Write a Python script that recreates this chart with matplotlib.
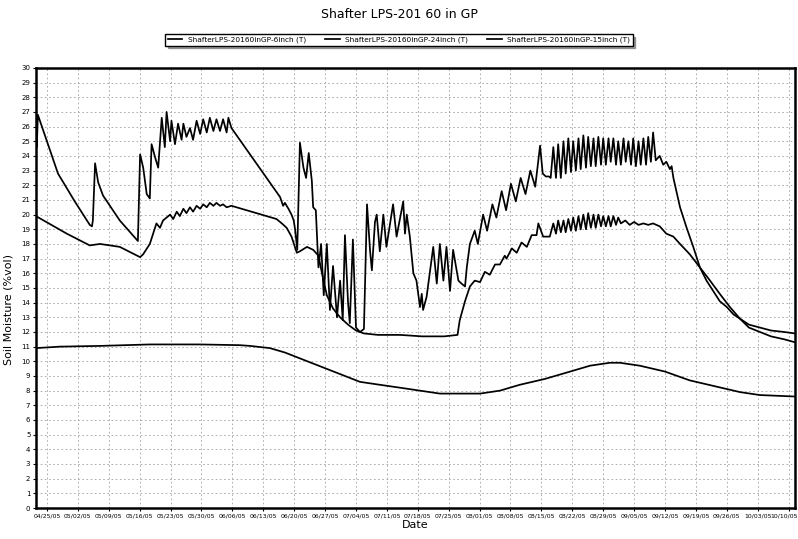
#!/usr/bin/python3
#
# Shafter LPS-201 60 in GP - soil moisture chart
#
import datetime as dt
import matplotlib
matplotlib.use('Agg')
import matplotlib.pyplot as plt
#
# data : days after 04/25/05, soil moisture (%vol)
#
start = dt.datetime(2005, 4, 25)
#
labels = ['ShafterLPS-20160inGP-6inch (T)',
          'ShafterLPS-20160inGP-24inch (T)',
          'ShafterLPS-20160inGP-15inch (T)']
#
tick_labels = ['04/25/05', '05/02/05', '05/09/05', '05/16/05', '05/23/05',
               '05/30/05', '06/06/05', '06/13/05', '06/20/05', '06/27/05',
               '07/04/05', '07/11/05', '07/18/05', '07/25/05', '08/01/05',
               '08/08/05', '08/15/05', '08/22/05', '08/29/05', '09/05/05',
               '09/12/05', '09/19/05', '09/26/05', '10/03/05', '10/10/05']
#
days_6 = [-2.45, -2.4, -2.3, -2.05, 2.5, 6.3, 9.7, 10.2, 10.4, 10.9, 11.6, 12.7, 13.6,
          16.5, 20.6, 21.1, 21.8, 22.6, 23.3, 23.7, 24.5, 25.2, 26.0, 26.7, 27.1,
          27.9, 28.2, 29.0, 29.7, 30.5, 30.9, 31.6, 32.4, 33.1, 33.9, 34.7, 35.4,
          36.2, 36.9, 37.7, 38.4, 39.2, 39.9, 40.7, 41.1, 41.8,
          52.8, 53.5, 53.9, 54.7, 55.4, 55.9, 56.2, 56.7,
          57.3, 58.1, 58.7, 59.3, 60.0, 60.3, 60.9, 61.5,
          62.1, 62.7, 63.4, 64.1, 64.8, 65.7, 66.4, 67.0, 67.5, 68.2, 68.6, 69.3,
          70.0, 70.9, 71.8, 72.5, 73.2, 73.6, 74.3, 74.7, 75.4,
          76.2, 76.9, 78.4, 79.2, 80.7, 81.1, 81.5, 82.2, 83.0, 83.7, 84.5, 84.9,
          85.2, 86.0, 87.5, 88.3, 89.0, 89.8, 90.5, 91.3, 92.0, 93.2, 93.9, 94.7,
          95.1, 95.8,
          96.9, 97.6, 98.8, 99.7, 100.9, 101.8, 103.0, 104.0, 105.1, 106.2, 107.3,
          108.4, 109.5, 110.6, 111.7, 112.3, 113.0, 113.7, 114.1,
          114.7, 115.3, 115.8, 116.4, 117.0, 117.5, 118.1, 118.7, 119.2, 119.8,
          120.4, 120.9, 121.5, 122.1, 122.6, 123.2, 123.8, 124.3, 124.9, 125.5,
          126.0, 126.6, 127.2, 127.7, 128.3, 128.9, 129.4, 130.0, 130.6, 131.1,
          131.7, 132.3, 132.8, 133.4, 134.0, 134.5, 135.1, 135.7, 136.2, 136.8,
          137.3, 137.9,
          138.8, 139.6, 140.3, 141.1, 141.5, 141.9, 143.4, 144.9, 146.4, 147.9,
          149.4, 150.9, 152.4, 154.0, 155.5, 157.0, 159.0, 161.5, 164.0, 167.0, 169.4]
vals_6 = [24.4, 25.6, 24.6, 26.8, 22.8, 20.9, 19.3, 19.2, 19.6, 23.5, 22.2, 21.3, 20.9,
          19.6, 18.2, 24.1, 23.2, 21.4, 21.1, 24.8, 23.9, 23.2, 26.6, 24.6, 27.0,
          25.0, 26.4, 24.8, 26.2, 25.1, 26.2, 25.3, 25.9, 25.1, 26.4, 25.5, 26.5,
          25.6, 26.6, 25.7, 26.5, 25.7, 26.5, 25.6, 26.6, 25.9,
          21.2, 20.6, 20.8, 20.4, 20.0, 19.6, 19.0, 17.6,
          24.9, 23.2, 22.5, 24.2, 22.3, 20.5, 20.3, 16.4,
          18.0, 14.5, 18.0, 13.5, 16.5, 13.0, 15.5, 12.8, 18.6, 14.0, 12.6, 18.3,
          12.3, 12.0, 12.2, 20.7, 17.5, 16.2, 19.5, 20.0, 17.5,
          20.0, 17.8, 20.7, 18.5, 20.9, 18.7, 20.0, 18.5, 16.0, 15.5, 13.7, 14.6,
          13.5, 14.4, 17.8, 15.3, 18.0, 15.5, 17.8, 14.8, 17.6, 15.5, 15.3, 15.1,
          16.4, 18.0,
          18.9, 18.0, 20.0, 18.9, 20.7, 19.8, 21.6, 20.3, 22.1, 20.9, 22.5,
          21.4, 23.0, 21.9, 24.7, 22.8, 22.6, 22.6, 22.5,
          24.6, 22.5, 24.8, 22.5, 25.0, 22.8, 25.2, 22.9, 25.0, 23.0,
          25.2, 23.1, 25.4, 23.2, 25.3, 23.3, 25.2, 23.3, 25.3, 23.4,
          25.2, 23.4, 25.2, 23.6, 25.2, 23.4, 25.0, 23.4, 25.2, 23.6,
          25.0, 23.4, 25.2, 23.3, 25.0, 23.4, 25.2, 23.4, 25.3, 23.6,
          25.6, 23.7,
          24.0, 23.4, 23.6, 23.1, 23.3, 22.5, 20.5, 19.1, 17.8, 16.4,
          15.5, 14.8, 14.1, 13.7, 13.2, 12.9, 12.3, 12.0, 11.7, 11.5, 11.3]
#
days_24 = [-2.5, 4.5, 9.7, 12.0, 14.3, 16.5, 21.1, 21.8, 23.3, 24.8, 25.6, 26.3,
           27.1, 27.9, 28.6, 29.4, 30.1, 30.9, 31.6, 32.4, 33.1, 33.9, 34.7, 35.4,
           36.2, 36.9, 37.7, 38.4, 39.2, 39.9, 40.7, 41.8,
           52.0, 53.2, 54.3, 55.4, 56.6,
           57.3, 58.9, 60.3, 61.5, 62.3, 63.4, 64.8, 66.4, 68.2, 70.0, 71.8,
           75.0, 80.0, 85.0, 90.0, 93.0, 93.5, 94.7, 95.8,
           96.9, 98.1, 99.2, 100.3, 101.5, 102.6, 103.7, 104.1, 105.3, 106.4,
           107.5, 108.7, 109.8, 110.9, 111.3, 112.4, 113.9,
           114.7, 115.3, 115.8, 116.4, 117.0, 117.5, 118.1, 118.7, 119.2, 119.8,
           120.4, 120.9, 121.5, 122.1, 122.6, 123.2, 123.8, 124.3, 124.9, 125.5,
           126.0, 126.6, 127.2, 127.7, 128.3, 128.9, 129.4, 130.0, 131.0, 132.0,
           133.0, 134.0, 135.1, 136.2, 137.3,
           138.8, 140.3, 141.9, 143.4, 145.6, 147.9, 150.2, 152.4, 154.7, 157.0,
           159.0, 161.5, 164.0, 167.0, 169.4]
vals_24 = [19.9, 18.7, 17.9, 18.0, 17.9, 17.8, 17.1, 17.3, 18.0, 19.4, 19.1, 19.6,
           19.8, 20.0, 19.7, 20.2, 19.9, 20.4, 20.1, 20.5, 20.2, 20.6, 20.4, 20.7,
           20.5, 20.8, 20.6, 20.8, 20.6, 20.7, 20.5, 20.6,
           19.7, 19.4, 19.1, 18.5, 17.4,
           17.5, 17.8, 17.6, 17.2, 16.0, 14.5, 13.6, 13.0, 12.5, 12.1, 11.9,
           11.8, 11.8, 11.7, 11.7, 11.8, 12.8, 14.1, 15.1,
           15.5, 15.4, 16.1, 15.9, 16.6, 16.6, 17.2, 17.0, 17.7, 17.4,
           18.1, 17.8, 18.6, 18.6, 19.4, 18.5, 18.5,
           19.4, 18.7, 19.6, 18.8, 19.6, 18.8, 19.7, 18.9, 19.8, 18.9,
           19.9, 19.0, 20.0, 19.0, 20.1, 19.1, 20.0, 19.1, 20.0, 19.2,
           19.9, 19.2, 19.9, 19.2, 19.9, 19.3, 19.8, 19.4, 19.6, 19.3,
           19.5, 19.3, 19.4, 19.3, 19.4,
           19.2, 18.7, 18.5, 18.0, 17.3, 16.4, 15.5, 14.6, 13.7, 12.9,
           12.5, 12.3, 12.1, 12.0, 11.9]
#
days_15 = [-2.5, 2.9, 12.0, 23.3, 34.7, 43.7, 46.0, 50.5, 53.9, 57.3, 60.7, 64.1,
           67.5, 70.9, 75.4, 80.0, 84.5, 89.0, 98.1, 102.6, 107.1, 112.8, 118.5,
           123.0, 127.5, 129.8, 134.3, 140.0, 145.6, 151.3, 157.0, 161.5, 169.4]
vals_15 = [10.9, 11.0, 11.05, 11.15, 11.15, 11.1, 11.05, 10.9, 10.6, 10.2, 9.8, 9.4,
           9.0, 8.6, 8.4, 8.2, 8.0, 7.8, 7.8, 8.0, 8.4, 8.8, 9.3,
           9.7, 9.9, 9.9, 9.7, 9.3, 8.7, 8.3, 7.9, 7.7, 7.6]
#
def to_dates(days):
    return [start + dt.timedelta(days=d) for d in days]
#
fig = plt.figure(figsize=(7.98, 5.39), dpi=100)
ax = fig.add_axes([0.045, 0.0575, 0.951, 0.8165])
#
ax.plot(to_dates(days_6), vals_6, color='black', lw=1.25, label=labels[0])
ax.plot(to_dates(days_24), vals_24, color='black', lw=1.25, label=labels[1])
ax.plot(to_dates(days_15), vals_15, color='black', lw=1.25, label=labels[2])
#
ax.set_xlim(start + dt.timedelta(days=-2.5), start + dt.timedelta(days=169.4))
ax.set_ylim(0, 30)
ax.set_yticks(range(0, 31))
tick_dates = [dt.datetime.strptime(t, '%m/%d/%y') for t in tick_labels]
ax.set_xticks(tick_dates)
# the last date label sits a little inside the figure edge
ax.set_xticklabels(tick_labels[:-1] + [''], fontsize=4.4)
ax.annotate(tick_labels[-1], xy=(tick_dates[-1], 0),
            xycoords=('data', 'axes fraction'), xytext=(-3.5, -4),
            textcoords='offset points', ha='center', va='top', fontsize=4.4)
ax.tick_params(axis='y', labelsize=5)
ax.tick_params(axis='both', length=2, pad=2)
#
ax.grid(True, color='#a0a0a0', ls=(0, (2, 3)), lw=0.6)
for s in ax.spines.values():
    s.set_linewidth(1.8)
#
ax.set_xlabel('Date', fontsize=8, labelpad=1)
ax.set_ylabel('Soil Moisture (%vol)', fontsize=8, labelpad=1)
ax.yaxis.set_label_coords(-0.03, 0.45)
#
fig.suptitle('Shafter LPS-201 60 in GP', fontsize=9, y=0.985)
fig.legend(loc='center', bbox_to_anchor=(0.5, 1 - 40 / 539), ncol=3,
           fontsize=5.3, frameon=True, fancybox=False, shadow=True,
           edgecolor='black', handlelength=2.0, columnspacing=2.5,
           borderpad=0.3)
#
fig.savefig('out.png', dpi=100)
